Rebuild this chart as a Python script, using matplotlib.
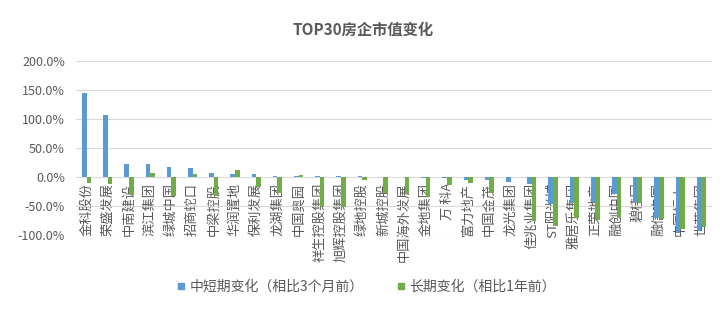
import matplotlib
matplotlib.use("Agg")
import matplotlib.pyplot as plt
from matplotlib.lines import Line2D
import numpy as np

plt.rcParams['font.family'] = ['Noto Sans CJK SC', 'DejaVu Sans']

categories = ["金科股份", "荣盛发展", "中南建设", "滨江集团", "绿城中国", "招商蛇口", "中梁控股",
              "华润置地", "保利发展", "龙湖集团", "中国奥园", "祥生控股集团", "旭辉控股集团",
              "绿地控股", "新城控股", "中国海外发展", "金地集团", "万 科A", "富力地产", "中国金茂",
              "龙光集团", "佳兆业集团", "ST阳光城", "雅居乐集团", "正荣地产", "融创中国", "碧桂园",
              "融信中国", "中国恒大", "世茂集团"]
short_term = [144, 107, 22.5, 22.5, 17, 15.5, 7, 5, 5, 2,
              2, 1, 1, 1, 0.3, 0.3, -1, -1, -5, -6,
              -8, -12, -47, -45, -43, -29, -43, -70, -96, -93]
long_term = [-10, -11.5, -31, 7, -32, 5, -32, 12, -17, -27,
             3.5, -51, -51, -6, -28, -28, -34, -14, -11, -27,
             0, -76, -84, -70, -75, -70, -45, -72, -90, -87]
yticks = [-100, -50, 0, 50, 100, 150, 200]
series_names = ["中短期变化（相比3个月前）", "长期变化（相比1年前）"]
colors = ["#5B9BD5", "#70AD47"]

fig = plt.figure(figsize=(7.26, 3.21), dpi=100)
ax = fig.add_axes([76/726, 1-235/321, 636/726, 174/321])
ax.spines['bottom'].set_position(('data', 0))

x = np.arange(len(categories))
w = 0.22
ax.bar(x - w/2, short_term, width=w, color=colors[0], zorder=3)
ax.bar(x + w/2, long_term, width=w, color=colors[1], zorder=3)

ax.set_xlim(-0.5, len(categories) - 0.5)
ax.set_ylim(-100, 200)
ax.set_yticks(yticks)
ax.set_yticklabels([f"{v:.1f}%" for v in yticks], fontsize=9, color="#595959")
ax.yaxis.grid(True, color="#D9D9D9", linewidth=0.8, zorder=0)
ax.set_axisbelow(True)

ax.set_xticks(x)
ax.set_xticklabels(categories, fontsize=9.5, color="#595959")
for s in ['top', 'right', 'left', 'bottom']:
    ax.spines[s].set_visible(False)
ax.tick_params(axis='both', length=0)
ax.tick_params(axis='x', pad=4, labelrotation=90)
ax.tick_params(axis='y', pad=8)

fig.text(0.5, 1 - 30/321, "TOP30房企市值变化", ha='center', va='center',
         fontsize=11, fontweight='bold', color="#595959")

handles = [Line2D([], [], marker='s', linestyle='none', markersize=5,
                  markerfacecolor=c, markeredgecolor=c) for c in colors]
fig.legend(handles, series_names, loc='center', bbox_to_anchor=(0.503, 1 - 287/321),
           ncol=2, frameon=False, fontsize=10, labelcolor="#595959",
           handletextpad=0.1, columnspacing=2.2, handlelength=1.0)

fig.savefig("out.png", dpi=100)
